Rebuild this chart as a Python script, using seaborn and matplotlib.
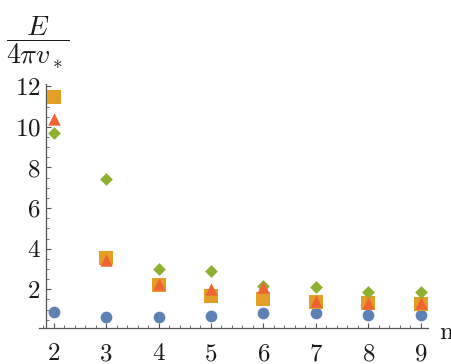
import matplotlib
matplotlib.use("Agg")
import matplotlib.pyplot as plt
import seaborn as sns
import pandas as pd
from matplotlib.ticker import MultipleLocator

n_values = [2, 3, 4, 5, 6, 7, 8, 9]
circle_vals = [0.90, 0.66, 0.62, 0.68, 0.82, 0.82, 0.73, 0.73]
square_vals = [11.46, 3.53, 2.21, 1.66, 1.51, 1.37, 1.31, 1.28]
diamond_vals = [9.71, 7.42, 3.02, 2.90, 2.16, 2.10, 1.88, 1.87]
triangle_vals = [10.40, 3.44, 2.25, 2.00, 2.13, 1.44, 1.31, 1.34]
x_ticks = [2, 3, 4, 5, 6, 7, 8, 9]
y_ticks = [2, 4, 6, 8, 10, 12]

sns.set_style("ticks")
plt.rcParams["font.family"] = ["cmr10", "DejaVu Serif"]
plt.rcParams["mathtext.fontset"] = "cm"
plt.rcParams["axes.formatter.use_mathtext"] = True

fig = plt.figure(figsize=(4.52, 3.64), dpi=100)
ax = fig.add_axes([39 / 452, 36 / 364, (428 - 39) / 452, (328 - 84) / 364])

series = [
    (circle_vals, "#5E81B5", "o", 71),
    (square_vals, "#E39E26", "s", 88),
    (diamond_vals, "#8DB02F", "D", 42),
    (triangle_vals, "#EE6532", "^", 80),
]
for vals, col, mk, s in series:
    df = pd.DataFrame({"n": n_values, "E": vals})
    sns.scatterplot(data=df, x="n", y="E", ax=ax, color=col, marker=mk, s=s,
                    linewidth=0, legend=False, zorder=3, clip_on=False)

ax.set_xlim(1.72, 9.14)
ax.set_ylim(0.094, 12.11)
ax.spines["left"].set_position(("data", 1.856))
ax.spines["top"].set_visible(False)
ax.spines["right"].set_visible(False)
for sp in ("left", "bottom"):
    ax.spines[sp].set_color("#555555")
    ax.spines[sp].set_linewidth(0.9)

ax.set_xticks(x_ticks)
ax.set_yticks(y_ticks)
ax.xaxis.set_minor_locator(MultipleLocator(0.2))
ax.yaxis.set_minor_locator(MultipleLocator(0.5))
ax.tick_params(axis="both", which="major", direction="in", length=3.5,
               width=0.8, color="#555555", labelsize=18, labelcolor="#1a1a1a")
ax.tick_params(axis="both", which="minor", direction="in", length=2,
               width=0.6, color="#555555")
ax.tick_params(axis="x", which="major", pad=11)
ax.tick_params(axis="y", which="major", pad=4)
ax.set_xlabel("")
ax.set_ylabel("")

fig.text(446 / 452, 1 - 333 / 364, "n", fontsize=18, ha="center", va="center",
         color="#1a1a1a")
fig.text(38 / 452, 1 - 43 / 364, r"$\dfrac{E}{4\pi v_*}$", fontsize=20,
         ha="center", va="center", color="#1a1a1a")

fig.savefig("out.png", dpi=100)
